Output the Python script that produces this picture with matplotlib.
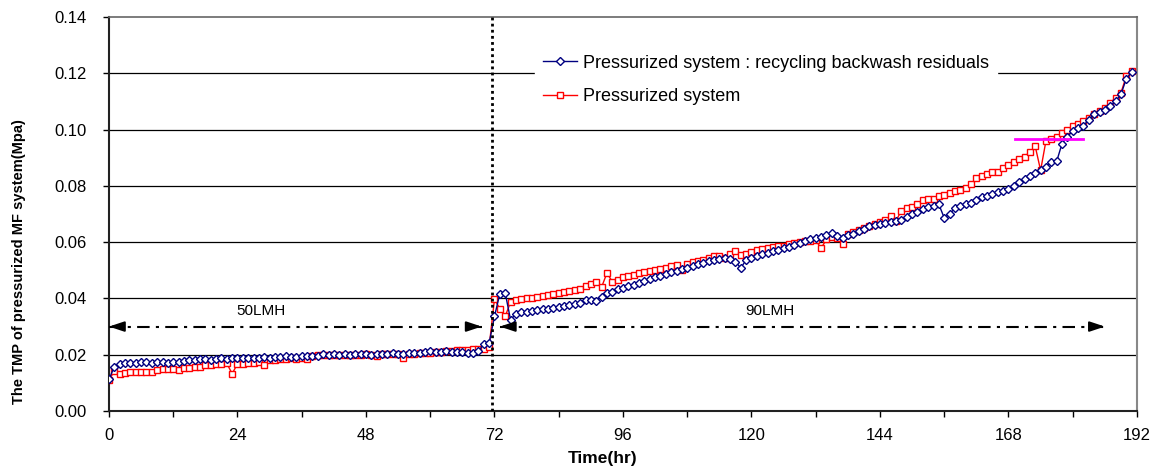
import numpy as np
import matplotlib
matplotlib.use("Agg")
from matplotlib import pyplot as plt

plt.rcParams['font.family'] = ['Liberation Sans', 'DejaVu Sans']

# time (hr), hourly readings
hours = np.arange(0, 192)

# Pressurized system : recycling backwash residuals
tmp_recycle = [
    0.0112, 0.0158, 0.0166, 0.0170, 0.0172, 0.0172, 0.0173, 0.0173, 0.0172, 0.0174,
    0.0175, 0.0172, 0.0174, 0.0173, 0.0176, 0.0180, 0.0182, 0.0184, 0.0183, 0.0181,
    0.0186, 0.0188, 0.0185, 0.0188, 0.0190, 0.0189, 0.0187, 0.0190, 0.0189, 0.0191,
    0.0190, 0.0193, 0.0192, 0.0194, 0.0193, 0.0192, 0.0195, 0.0194, 0.0196, 0.0197,
    0.0201, 0.0198, 0.0202, 0.0200, 0.0201, 0.0199, 0.0203, 0.0201, 0.0202, 0.0199,
    0.0204, 0.0202, 0.0203, 0.0205, 0.0203, 0.0204, 0.0206, 0.0205, 0.0207, 0.0210,
    0.0213, 0.0209, 0.0211, 0.0212, 0.0209, 0.0210, 0.0208, 0.0207, 0.0206, 0.0212,
    0.0238, 0.0241, 0.0336, 0.0417, 0.0420, 0.0324, 0.0345, 0.0350, 0.0353, 0.0356,
    0.0358, 0.0361, 0.0363, 0.0366, 0.0370, 0.0374, 0.0378, 0.0381, 0.0385, 0.0396,
    0.0393, 0.0392, 0.0405, 0.0418, 0.0424, 0.0432, 0.0437, 0.0443, 0.0449, 0.0455,
    0.0462, 0.0469, 0.0475, 0.0481, 0.0487, 0.0493, 0.0499, 0.0504, 0.0509, 0.0515,
    0.0521, 0.0526, 0.0532, 0.0537, 0.0540, 0.0543, 0.0540, 0.0531, 0.0508, 0.0537,
    0.0545, 0.0552, 0.0557, 0.0562, 0.0568, 0.0573, 0.0578, 0.0584, 0.0591, 0.0598,
    0.0605, 0.0610, 0.0615, 0.0620, 0.0626, 0.0633, 0.0622, 0.0615, 0.0624, 0.0630,
    0.0638, 0.0648, 0.0656, 0.0660, 0.0664, 0.0667, 0.0672, 0.0676, 0.0680, 0.0690,
    0.0700, 0.0708, 0.0716, 0.0724, 0.0730, 0.0734, 0.0686, 0.0700, 0.0720, 0.0730,
    0.0734, 0.0738, 0.0750, 0.0762, 0.0763, 0.0770, 0.0777, 0.0781, 0.0790, 0.0800,
    0.0812, 0.0825, 0.0835, 0.0845, 0.0855, 0.0868, 0.0885, 0.0887, 0.0950, 0.0975,
    0.0995, 0.1004, 0.1014, 0.1035, 0.1055, 0.1062, 0.1070, 0.1085, 0.1100, 0.1125,
    0.1180, 0.1205,
]

# Pressurized system
tmp_plain = [
    0.0110, 0.0142, 0.0131, 0.0136, 0.0138, 0.0138, 0.0139, 0.0139, 0.0140, 0.0147,
    0.0148, 0.0150, 0.0150, 0.0147, 0.0152, 0.0154, 0.0156, 0.0158, 0.0162, 0.0164,
    0.0166, 0.0167, 0.0170, 0.0132, 0.0168, 0.0168, 0.0169, 0.0170, 0.0174, 0.0164,
    0.0180, 0.0182, 0.0184, 0.0186, 0.0187, 0.0186, 0.0188, 0.0185, 0.0196, 0.0198,
    0.0199, 0.0198, 0.0200, 0.0199, 0.0198, 0.0199, 0.0199, 0.0200, 0.0201, 0.0200,
    0.0197, 0.0201, 0.0202, 0.0203, 0.0202, 0.0189, 0.0203, 0.0204, 0.0205, 0.0206,
    0.0207, 0.0209, 0.0210, 0.0212, 0.0213, 0.0215, 0.0216, 0.0218, 0.0220, 0.0221,
    0.0222, 0.0228, 0.0398, 0.0363, 0.0336, 0.0387, 0.0393, 0.0397, 0.0400, 0.0403,
    0.0405, 0.0409, 0.0413, 0.0417, 0.0420, 0.0424, 0.0428, 0.0430, 0.0432, 0.0444,
    0.0452, 0.0457, 0.0440, 0.0490, 0.0460, 0.0467, 0.0475, 0.0480, 0.0485, 0.0489,
    0.0493, 0.0497, 0.0501, 0.0504, 0.0508, 0.0514, 0.0520, 0.0502, 0.0523, 0.0530,
    0.0534, 0.0537, 0.0545, 0.0550, 0.0552, 0.0545, 0.0558, 0.0570, 0.0553, 0.0558,
    0.0565, 0.0571, 0.0575, 0.0578, 0.0581, 0.0585, 0.0588, 0.0592, 0.0596, 0.0600,
    0.0603, 0.0605, 0.0607, 0.0578, 0.0610, 0.0618, 0.0614, 0.0595, 0.0630, 0.0637,
    0.0642, 0.0650, 0.0657, 0.0664, 0.0670, 0.0678, 0.0692, 0.0676, 0.0712, 0.0720,
    0.0726, 0.0735, 0.0750, 0.0752, 0.0755, 0.0763, 0.0768, 0.0774, 0.0780, 0.0786,
    0.0793, 0.0805, 0.0829, 0.0834, 0.0841, 0.0850, 0.0848, 0.0862, 0.0875, 0.0884,
    0.0897, 0.0904, 0.0920, 0.0940, 0.0855, 0.0960, 0.0966, 0.0975, 0.0988, 0.1000,
    0.1013, 0.1020, 0.1030, 0.1042, 0.1055, 0.1066, 0.1076, 0.1095, 0.1112, 0.1130,
    0.1190, 0.1207,
]

labels = ["Pressurized system : recycling backwash residuals", "Pressurized system"]
switch_t = 71.5                 # flux change 50 -> 90 LMH
span_50 = (0, 69.6)
span_90 = (73.0, 186.0)
arrow_y = 0.030
magenta_y = 0.0965
magenta_span = (169.2, 182.0)

fig = plt.figure(figsize=(11.57, 4.68), dpi=100)
ax = fig.add_axes([0.0942, 0.1218, 0.8885, 0.8419])

ax.set_xlim(0, 192)
ax.set_ylim(0, 0.14)
ax.set_xticks(np.arange(0, 193, 24))
ax.set_xticks(np.arange(12, 192, 24), minor=True)
ax.set_yticks(np.arange(0, 0.141, 0.02))
ax.set_yticklabels(["%.2f" % v for v in np.arange(0, 0.141, 0.02)])
ax.tick_params(axis='both', which='both', direction='out', length=4, width=1, labelsize=12)
ax.tick_params(axis='y', pad=12)
ax.tick_params(axis='x', pad=8)

for v in np.arange(0.02, 0.121, 0.02):
    ax.axhline(v, color='black', lw=0.9, zorder=1)
for s in ['left', 'bottom']:
    ax.spines[s].set_linewidth(1.5)
    ax.spines[s].set_color('#222222')
ax.spines['right'].set_color('#888888')
ax.spines['right'].set_linewidth(1.5)
ax.spines['top'].set_color('#666666')
ax.spines['top'].set_linewidth(1.2)

ax.plot(hours, tmp_plain, color='#ff0000', lw=1, marker='s', ms=4.4,
        mfc='white', mec='#ff0000', mew=1, label=labels[1], zorder=3)
ax.plot(hours, tmp_recycle, color='#000080', lw=1, marker='D', ms=4.0,
        mfc='white', mec='#000080', mew=1, label=labels[0], zorder=4)

ax.axvline(switch_t, color='black', lw=2, ls=(0, (1, 1.2)), zorder=5)

for span in (span_50, span_90):
    ax.plot(span, [arrow_y, arrow_y], color='black', lw=1.5, ls=(0, (6, 3, 1.5, 3)), zorder=5)
    ax.annotate('', xy=(span[0], arrow_y), xytext=(span[0] + 2.5, arrow_y),
                arrowprops=dict(arrowstyle='-|>,head_length=0.9,head_width=0.3',
                                color='black', lw=1.5, shrinkA=0, shrinkB=0), zorder=6)
    ax.annotate('', xy=(span[1], arrow_y), xytext=(span[1] - 2.5, arrow_y),
                arrowprops=dict(arrowstyle='-|>,head_length=0.9,head_width=0.3',
                                color='black', lw=1.5, shrinkA=0, shrinkB=0), zorder=6)

ax.text(28.4, 0.0357, "50LMH", ha='center', va='center', fontsize=11)
ax.text(123.5, 0.0357, "90LMH", ha='center', va='center', fontsize=11)

ax.plot(magenta_span, [magenta_y, magenta_y], color='#ff00ff', lw=2, zorder=6)

h, l = ax.get_legend_handles_labels()
leg = ax.legend(h[::-1], l[::-1], loc='upper left', bbox_to_anchor=(0.414, 0.925),
                frameon=True, fontsize=13, handlelength=1.9, handletextpad=0.35,
                labelspacing=0.9, borderpad=0.45, borderaxespad=0)
leg.get_frame().set_edgecolor('white')
leg.get_frame().set_facecolor('white')
leg.get_frame().set_alpha(1)
leg.set_zorder(10)

ax.set_xlabel("Time(hr)", fontsize=12.5, fontweight='bold')
ax.xaxis.set_label_coords(0.4805, -0.102)
ax.set_ylabel("The TMP of pressurized MF system(Mpa)", fontsize=10.5, fontweight='bold')
ax.yaxis.set_label_coords(-0.081, 0.38)

fig.savefig("out.png", dpi=100)
